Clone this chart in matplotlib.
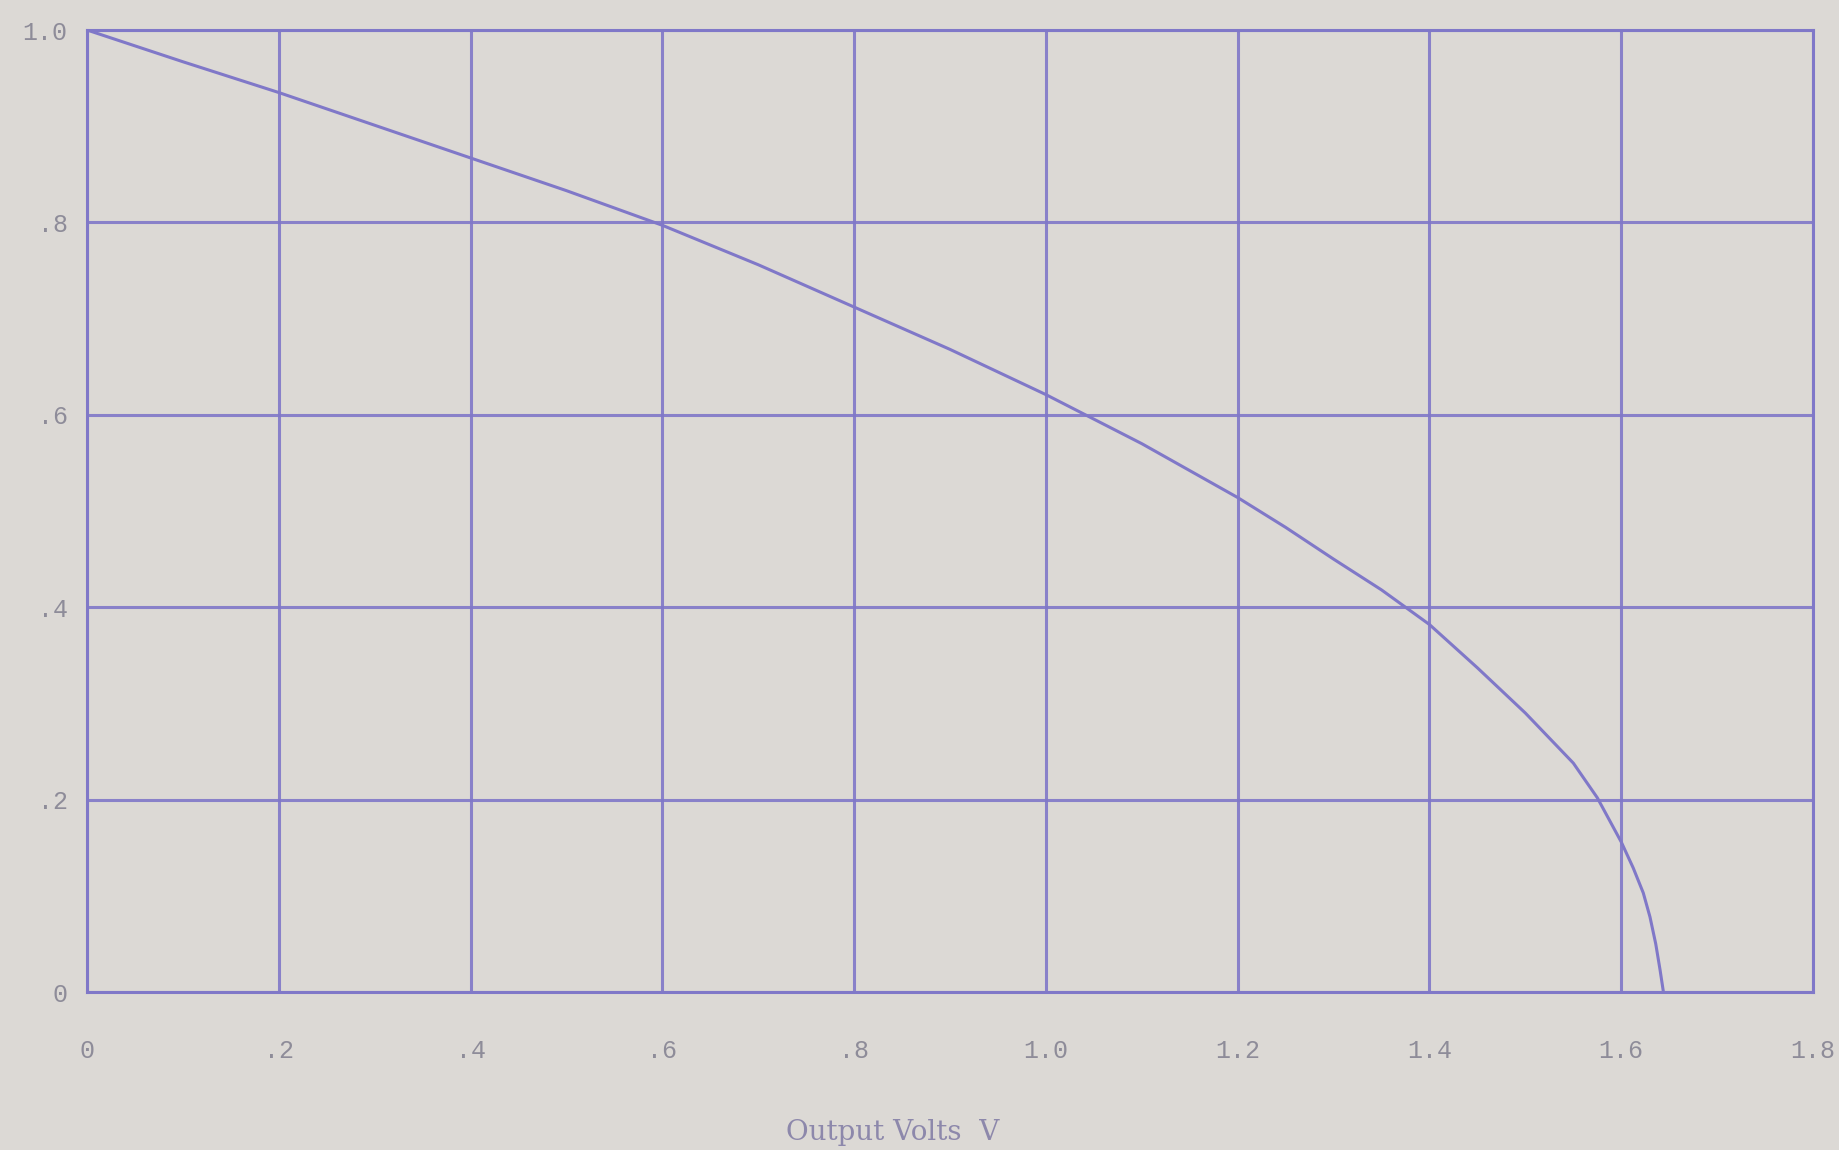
import matplotlib
matplotlib.use("Agg")
import matplotlib.pyplot as plt

# Data
volts = [0.0, 0.1, 0.2, 0.3, 0.4, 0.5, 0.6, 0.7, 0.8, 0.9, 1.0, 1.1, 1.2, 1.25,
         1.3, 1.35, 1.4, 1.45, 1.5, 1.55, 1.575, 1.6, 1.6125, 1.623, 1.63,
         1.636, 1.6405, 1.644]
ratio = [1.0, 0.967, 0.935, 0.901, 0.867, 0.833, 0.797, 0.756, 0.712, 0.668,
         0.621, 0.570, 0.514, 0.483, 0.450, 0.418, 0.382, 0.337, 0.290, 0.238,
         0.202, 0.156, 0.129, 0.103, 0.078, 0.050, 0.023, 0.0]

xticks = [0, 0.2, 0.4, 0.6, 0.8, 1.0, 1.2, 1.4, 1.6, 1.8]
xtick_labels = ["0", ".2", ".4", ".6", ".8", "1.0", "1.2", "1.4", "1.6", "1.8"]
yticks = [0, 0.2, 0.4, 0.6, 0.8, 1.0]
ytick_labels = ["0", ".2", ".4", ".6", ".8", "1.0"]
xlabel = "Output Volts  V"

bg = "#dcd9d5"
ink = "#8078c8"
text_c = "#8e8c99"

fig = plt.figure(figsize=(18.4, 11.5), dpi=100, facecolor=bg)
ax = fig.add_axes([87 / 1840, 1 - 992 / 1150, (1813 - 87) / 1840, (992 - 30) / 1150])
ax.set_facecolor(bg)

ax.plot(volts, ratio, color=ink, lw=2.2, solid_capstyle="round", solid_joinstyle="round")

ax.set_xlim(0, 1.8)
ax.set_ylim(0, 1.0)
ax.set_xticks(xticks)
ax.set_xticklabels(xtick_labels, fontfamily="Liberation Mono", fontsize=18, color=text_c)
ax.set_yticks(yticks)
ax.set_yticklabels(ytick_labels, fontfamily="Liberation Mono", fontsize=18, color=text_c)
ax.tick_params(axis="both", length=0)
ax.tick_params(axis="x", pad=34)
ax.tick_params(axis="y", pad=14)

ax.grid(True, color=ink, lw=2.2, alpha=0.9)
ax.set_axisbelow(True)
for s in ax.spines.values():
    s.set_color(ink)
    s.set_linewidth(2.2)

fig.text(893 / 1840, (1150 - 1133) / 1150, xlabel, fontfamily="DejaVu Serif",
         fontsize=20, color="#8d88ab", ha="center", va="center")

fig.savefig("out.png", dpi=100, facecolor=bg)
